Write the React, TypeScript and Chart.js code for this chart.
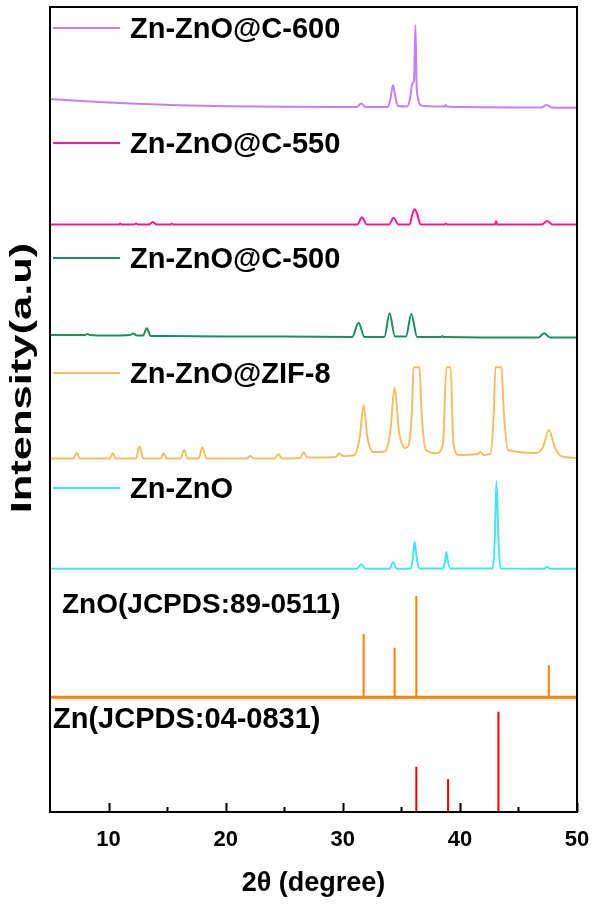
import React, { useEffect, useRef } from 'react';
import { Chart, registerables } from 'chart.js';

Chart.register(...registerables);

// ---------- data ----------
const xTicks = [10, 20, 30, 40, 50];
const xMinorTicks = [15, 25, 35, 45];

const seriesNames = ['Zn-ZnO@C-600', 'Zn-ZnO@C-550', 'Zn-ZnO@C-500', 'Zn-ZnO@ZIF-8', 'Zn-ZnO'];
const seriesColors = ['#c080ff', '#ff1a8c', '#1a9060', '#efc065', '#40e8f0'];

// [2θ, intensity (a.u., stacked offset included)]
const c600: [number, number][] = [
  [5, 713], [7, 711.5], [10, 709.5], [13, 708], [16, 706.8], [20, 705.8], [25, 705.2], [30, 705],
  [31.2, 705], [31.58, 708.5], [31.95, 705], [33.85, 705], [34.08, 714], [34.29, 727], [34.5, 714],
  [34.72, 706], [35.5, 705.5], [35.75, 714], [35.93, 728], [36.08, 731], [36.2, 787], [36.3, 729],
  [36.42, 714], [36.62, 707], [37, 706], [38.7, 705.5], [38.8, 707], [38.9, 705.5], [40, 705],
  [45, 704.5], [47.0, 704.5], [47.4, 707.3], [47.8, 704.5], [50, 704.2],
];

const c550: [number, number][] = [
  [5, 587.5], [10.9, 587.5], [11.0, 588.5], [11.1, 587.5], [12.2, 587.5], [12.35, 588.5], [12.5, 587.5],
  [13.45, 587.5], [13.78, 590], [14.1, 587.5], [15.3, 587.5], [15.4, 588.5], [15.5, 587.5],
  [31.25, 587.5], [31.64, 594.7], [32.05, 587.5], [33.95, 587.5], [34.34, 594.3], [34.75, 587.5],
  [35.7, 587.5], [35.95, 598], [36.14, 602.7], [36.35, 598], [36.65, 587.5], [38.7, 587.5],
  [38.8, 588.5], [38.9, 587.5], [43.0, 587.5], [43.09, 591], [43.18, 587.5], [47.0, 587.5],
  [47.45, 591], [47.9, 587.5], [50, 587.5],
];

const c500: [number, number][] = [
  [5, 477], [8.0, 477], [8.2, 478], [8.4, 477], [10, 476.5], [11.8, 477], [12.1, 478.5], [12.4, 476.5],
  [12.95, 476.5], [13.26, 483.7], [13.6, 476], [15, 476], [20, 475.5], [25, 475.5], [30.8, 475],
  [31.35, 489.3], [31.85, 475], [33.55, 475], [34.0, 498.7], [34.45, 475.5], [35.4, 475.5],
  [35.85, 498], [36.35, 475], [38.4, 475], [38.5, 476], [38.6, 475], [46.7, 474.5], [47.2, 478.7],
  [47.7, 474.5], [50, 474.5],
];

const zif8: [number, number][] = [
  [5, 353.5], [7.0, 353.5], [7.28, 359.3], [7.55, 353.5], [10.1, 353.5], [10.36, 358.7], [10.6, 353.5],
  [12.35, 353.5], [12.64, 366], [12.95, 353.5], [14.45, 353.5], [14.7, 358.7], [14.95, 353.5],
  [16.15, 353.5], [16.45, 362], [16.75, 353.5], [17.7, 353.5], [18.0, 364.7], [18.35, 353.5],
  [21.8, 353.5], [22.1, 356], [22.4, 353.5], [24.2, 353.5], [24.5, 358], [24.8, 353.5],
  [26.35, 354], [26.65, 359.7], [26.95, 354.5], [29.4, 355], [29.7, 358.7], [30.0, 356],
  [31.0, 357], [31.45, 375], [31.78, 407], [32.1, 375], [32.6, 360], [33.6, 360.5], [34.05, 380],
  [34.43, 424.7], [34.8, 380], [35.0, 370], [35.3, 364], [35.6, 366], [35.9, 400], [36.05, 444.7],
  [36.54, 444.7], [36.75, 395], [37.1, 362], [38.0, 358.7], [38.55, 368], [38.85, 444.7],
  [39.2, 444.7], [39.45, 368], [39.9, 357], [41.5, 358], [41.75, 360], [42.0, 357], [42.6, 358],
  [42.9, 400], [43.03, 444.7], [43.55, 444.7], [43.75, 400], [44.1, 362], [46.5, 359], [47.1, 365],
  [47.6, 382], [48.1, 365], [48.6, 356], [50, 354],
];

const znzno: [number, number][] = [
  [5, 243.3], [31.2, 243.3], [31.58, 247.7], [31.95, 243.3], [34.0, 243.3], [34.29, 249.7],
  [34.6, 243.3], [35.8, 243.5], [36.0, 255], [36.14, 270.3], [36.3, 255], [36.55, 243.5],
  [38.55, 243.5], [38.75, 252], [38.85, 260], [38.95, 252], [39.2, 243.5], [42.8, 243.5],
  [42.97, 270], [43.12, 331], [43.3, 270], [43.45, 243.5], [47.2, 243.3], [47.45, 245.3],
  [47.7, 243.3], [50, 243.3],
];

const seriesData = [c600, c550, c500, zif8, znzno];

const znoRefName = 'ZnO(JCPDS:89-0511)';
const znoRefColor = '#ff8000';
const znoRefBase = 114.7;
const znoRefPeaks = [31.78, 34.43, 36.28, 47.59];
const znoRefTops = [178, 164.3, 216, 146.7];

const znRefName = 'Zn(JCPDS:04-0831)';
const znRefColor = '#ff0000';
const znRefBase = 0;
const znRefPeaks = [36.28, 38.99, 43.29];
const znRefTops = [45.3, 32.7, 100.3];

// ---------- layout (not data) ----------
const FONT = '"Liberation Sans", Arial, sans-serif';
const seriesLabelY = [784, 669, 554, 439, 324]; // label centres in y-units
const refLabelY = [209, 94];

function sticks(base: number, xs: number[], tops: number[]) {
  const pts: { x: number; y: number | null }[] = [];
  xs.forEach((x, i) => {
    pts.push({ x, y: base }, { x, y: tops[i] }, { x, y: null });
  });
  return pts;
}

const overlay = {
  id: 'overlay',
  afterDraw(chart: any) {
    const { ctx, chartArea: a, scales } = chart;
    const x = scales.x;
    const y = scales.y;
    ctx.save();
    // frame
    ctx.strokeStyle = '#000';
    ctx.lineWidth = 2;
    ctx.strokeRect(a.left, a.top, a.right - a.left, a.bottom - a.top);
    // inward ticks
    ctx.beginPath();
    xTicks.forEach((v) => {
      const px = Math.round(x.getPixelForValue(v)) + 0.5;
      ctx.moveTo(px, a.bottom);
      ctx.lineTo(px, a.bottom - 9);
    });
    xMinorTicks.forEach((v) => {
      const px = Math.round(x.getPixelForValue(v)) + 0.5;
      ctx.moveTo(px, a.bottom);
      ctx.lineTo(px, a.bottom - 5);
    });
    ctx.stroke();

    // series labels with line samples
    ctx.fillStyle = '#000';
    ctx.textAlign = 'left';
    ctx.textBaseline = 'alphabetic';
    ctx.font = `bold 29px ${FONT}`;
    seriesNames.forEach((name, i) => {
      const cy = y.getPixelForValue(seriesLabelY[i]);
      ctx.strokeStyle = seriesColors[i];
      ctx.lineWidth = 2;
      ctx.beginPath();
      ctx.moveTo(a.left + 3, cy);
      ctx.lineTo(a.left + 70, cy);
      ctx.stroke();
      ctx.fillText(name, a.left + 80, cy + 10);
    });
    ctx.font = `bold 28px ${FONT}`;
    ctx.fillText(znoRefName, a.left + 12, y.getPixelForValue(refLabelY[0]) + 10);
    ctx.font = `bold 29px ${FONT}`;
    ctx.fillText(znRefName, a.left + 3, y.getPixelForValue(refLabelY[1]) + 10);

    // y title (stretched along its length like the original)
    ctx.save();
    ctx.translate(23, 378);
    ctx.rotate(-Math.PI / 2);
    ctx.scale(1.5, 1);
    ctx.textAlign = 'center';
    ctx.textBaseline = 'middle';
    ctx.font = `bold 29px ${FONT}`;
    ctx.fillText('Intensity(a.u)', 0, 0);
    ctx.restore();

    ctx.restore();
  },
};

export default function App() {
  const ref = useRef<HTMLCanvasElement | null>(null);

  useEffect(() => {
    document.body.style.margin = '0';
    const canvas = ref.current;
    if (!canvas) return;

    const lineDatasets = seriesData.map((d, i) => ({
      label: seriesNames[i],
      data: d.map(([x, y]) => ({ x, y })),
      borderColor: seriesColors[i],
      borderWidth: 2,
      pointRadius: 0,
      cubicInterpolationMode: 'monotone' as const,
      fill: false,
    }));

    const chart = new Chart(canvas, {
      type: 'line',
      data: {
        datasets: [
          ...lineDatasets,
          {
            label: znoRefName + ' base',
            data: [{ x: 5, y: znoRefBase }, { x: 50, y: znoRefBase }],
            borderColor: znoRefColor,
            borderWidth: 3,
            pointRadius: 0,
            tension: 0,
          },
          {
            label: znoRefName,
            data: sticks(znoRefBase, znoRefPeaks, znoRefTops),
            borderColor: znoRefColor,
            borderWidth: 2,
            pointRadius: 0,
            tension: 0,
            spanGaps: false,
          },
          {
            label: znRefName,
            data: sticks(znRefBase, znRefPeaks, znRefTops),
            borderColor: znRefColor,
            borderWidth: 2,
            pointRadius: 0,
            tension: 0,
            spanGaps: false,
          },
        ],
      },
      options: {
        responsive: false,
        animation: false,
        devicePixelRatio: 1,
        layout: { padding: { left: 50, right: 19, top: 7, bottom: 0 } },
        plugins: { legend: { display: false }, tooltip: { enabled: false } },
        scales: {
          x: {
            type: 'linear',
            min: 5,
            max: 50,
            grid: { display: false, drawTicks: false },
            border: { display: false },
            afterBuildTicks: (s: any) => {
              s.ticks = xTicks.map((v) => ({ value: v }));
            },
            afterFit: (s: any) => {
              s.height = 92;
              s.paddingLeft = 0;
              s.paddingRight = 0;
            },
            ticks: {
              padding: 15,
              color: '#000',
              font: { family: FONT, size: 22, weight: 'bold' },
              maxRotation: 0,
              autoSkip: false,
            },
            title: {
              display: true,
              text: '2θ (degree)',
              color: '#000',
              font: { family: FONT, size: 27, weight: 'bold' },
              padding: { top: 0, bottom: 4 },
            },
          },
          y: {
            type: 'linear',
            min: 0,
            max: 805,
            display: false,
          },
        },
      },
      plugins: [overlay],
    });

    return () => chart.destroy();
  }, []);

  return (
    <div style={{ width: 596, height: 904, background: '#fff' }}>
      <canvas ref={ref} width={596} height={904} style={{ display: 'block', width: 596, height: 904 }} />
    </div>
  );
}
